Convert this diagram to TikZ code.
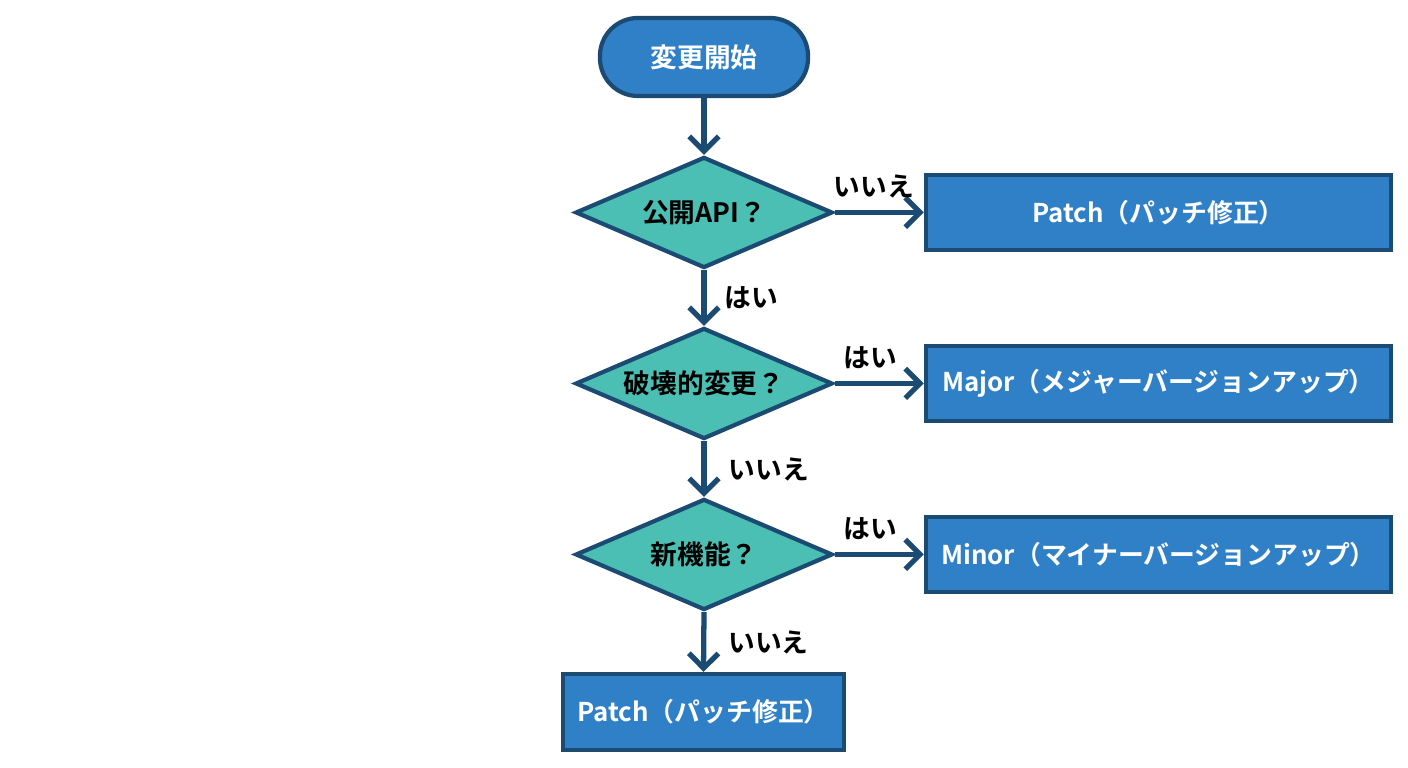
\documentclass[tikz,border=0pt]{standalone}
\usepackage{fontspec}
\setmainfont{Noto Sans CJK JP}[BoldFont={Noto Sans CJK JP Bold}]
\usetikzlibrary{shapes.geometric,arrows.meta}
\definecolor{navy}{HTML}{1B4A72}
\definecolor{boxblue}{HTML}{3080C8}
\definecolor{teal2}{HTML}{4BBFB3}
\tikzset{
  every node/.style={font=\fontsize{7.6pt}{9pt}\selectfont\bfseries},
  startbox/.style={draw=navy, line width=1.2pt, fill=boxblue, text=white, rounded corners=0.38cm, minimum width=2.08cm, minimum height=0.78cm},
  decbox/.style={diamond, aspect=2.3, draw=navy, line width=1.2pt, fill=teal2, text=black, inner sep=0pt, minimum width=2.57cm, minimum height=1.11cm},
  resbox/.style={draw=navy, line width=1.2pt, fill=boxblue, text=white, inner xsep=0pt, minimum width=4.65cm, minimum height=0.75cm, font=\fontsize{7.35pt}{9pt}\selectfont\bfseries},
  flow/.style={draw=navy, line width=1.5pt, -{Straight Barb[length=4.2pt,width=8.4pt,line width=1.5pt]}},
  lbl/.style={text=black, inner sep=0pt},
}
\begin{document}
\begin{tikzpicture}[x=0.01cm,y=-0.01cm]
\useasboundingbox (0,0) rectangle (1408,768);
\fill[white] (0,0) rectangle (1408,768);
\node[startbox] (start) at (704,57) {変更開始};
\node[decbox] (d1) at (704,212.5) {公開API？};
\node[decbox] (d2) at (704,383.5) {破壊的変更？};
\node[decbox] (d3) at (704,554.5) {新機能？};
\node[resbox] (p1) at (1158.5,212.5) {Patch（パッチ修正）};
\node[resbox] (maj) at (1158.5,383.5) {Major（メジャーバージョンアップ）};
\node[resbox] (min) at (1158.5,554.5) {Minor（マイナーバージョンアップ）};
\node[resbox, minimum width=2.81cm, minimum height=0.76cm] (p2) at (703.5,712) {Patch（パッチ修正）};
\draw[flow] (start) -- (d1);
\draw[flow] (d1.east) -- node[lbl, pos=0.44, above=0.12cm] (l1) {いいえ} (p1.west);
\draw[flow] (d1.south) -- node[lbl, right=0.18cm] (l2) {はい} (d2.north);
\draw[flow] (d2.east) -- node[lbl, pos=0.4, above=0.12cm] (l3) {はい} (maj.west);
\draw[flow] (d2.south) -- node[lbl, right=0.22cm] (l4) {いいえ} (d3.north);
\draw[flow] (d3.east) -- node[lbl, pos=0.4, above=0.12cm] (l5) {はい} (min.west);
\draw[flow] (d3.south) -- node[lbl, right=0.22cm] (l6) {いいえ} (p2.north);
\end{tikzpicture}
\end{document}
